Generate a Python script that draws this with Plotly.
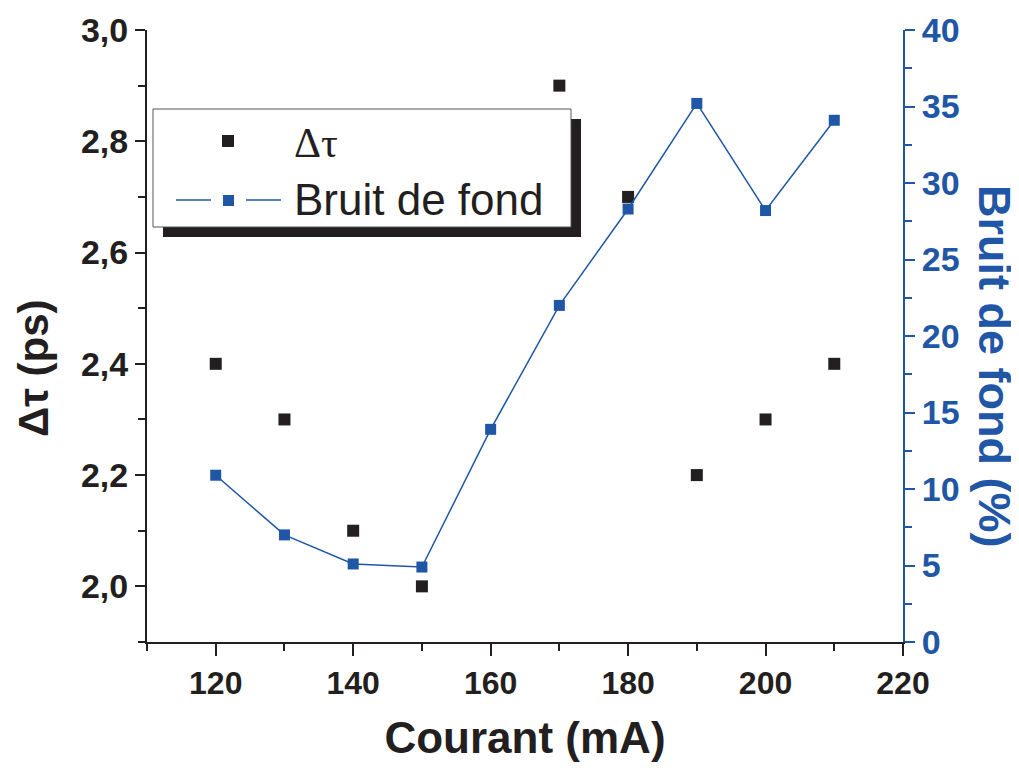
import plotly.graph_objects as go

courant_dt = [120, 130, 140, 150, 170, 180, 190, 200, 210]
delta_tau = [2.4, 2.3, 2.1, 2.0, 2.9, 2.7, 2.2, 2.3, 2.4]

courant_bruit = [120, 130, 140, 150, 160, 170, 180, 190, 200, 210]
bruit = [10.9, 7.0, 5.1, 4.9, 13.9, 22.0, 28.3, 35.2, 28.2, 34.1]

legend_names = ["Δτ", "Bruit de fond"]

BLACK = "#231F20"
BLUE = "#1F56A6"
FONT = "Liberation Sans"

# page has an 8px body margin: compensate so the plot lands where the reference has it
OFF = 8
W, H = 1019 - OFF, 770 - OFF
# plot area in page pixels
L, R, T, B = 147, 903, 30, 642
def px(x):
    return (x - L) / (R - L)
def py(y):
    return (B - y) / (B - T)

fig = go.Figure()
fig.add_trace(go.Scatter(
    x=courant_dt, y=delta_tau, mode="markers", name=legend_names[0],
    marker=dict(symbol="square", size=12, color=BLACK),
    xaxis="x", yaxis="y", showlegend=False))
fig.add_trace(go.Scatter(
    x=courant_bruit, y=bruit, mode="lines+markers", name=legend_names[1],
    line=dict(color=BLUE, width=1.5),
    marker=dict(symbol="square", size=11, color=BLUE),
    xaxis="x", yaxis="y2", showlegend=False))

fig.update_layout(
    width=W, height=H,
    margin=dict(l=L - OFF, r=W - (R - OFF), t=T - OFF, b=H - (B - OFF)),
    paper_bgcolor="white", plot_bgcolor="white",
    separators=",.",
    showlegend=False,
    xaxis=dict(range=[110, 220], dtick=20, tick0=0, automargin=False,
               showline=True, linecolor=BLACK, linewidth=2,
               ticks="outside", ticklen=12, tickwidth=2, tickcolor=BLACK,
               minor=dict(dtick=10, ticklen=7, tickwidth=2, tickcolor=BLACK, ticks="outside"),
               showgrid=False, zeroline=False,
               tickfont=dict(family=FONT, size=32, color=BLACK, weight="bold"),
               title=dict(text="Courant (mA)", standoff=22,
                          font=dict(family=FONT, size=44, color=BLACK, weight="bold"))),
    xaxis2=dict(range=[110, 220], dtick=20, tick0=0, overlaying="x", side="top",
                automargin=False,
                showline=True, linecolor=BLACK, linewidth=2,
                ticks="inside", ticklen=12, tickwidth=2, tickcolor=BLACK,
                minor=dict(dtick=10, ticklen=7, tickwidth=2, tickcolor=BLACK, ticks="inside"),
                showgrid=False, zeroline=False, showticklabels=False),
    yaxis=dict(range=[1.9, 3.0], tick0=2.0, dtick=0.2, tickformat=".1f",
               automargin=False,
               showline=True, linecolor=BLACK, linewidth=2,
               ticks="outside", ticklen=10, tickwidth=2, tickcolor=BLACK,
               minor=dict(dtick=0.1, ticklen=7, tickwidth=2, tickcolor=BLACK, ticks="outside"),
               showgrid=False, zeroline=False,
               tickfont=dict(family=FONT, size=34, color=BLACK, weight="bold")),
    yaxis2=dict(range=[0, 40], dtick=5, overlaying="y", side="right",
                automargin=False,
                showline=True, linecolor=BLUE, linewidth=2,
                ticks="outside", ticklen=10, tickwidth=2, tickcolor=BLUE,
                minor=dict(dtick=2.5, ticklen=7, tickwidth=2, tickcolor=BLUE, ticks="outside"),
                showgrid=False, zeroline=False,
                tickfont=dict(family=FONT, size=34, color=BLUE, weight="bold")),
)

# y-axis titles as annotations (offset along the axis like the reference)
fig.add_annotation(xref="paper", yref="paper", x=px(33), y=py(368),
                   text="Δτ (ps)", textangle=-90, showarrow=False,
                   xanchor="center", yanchor="middle",
                   font=dict(family=FONT, size=42, color=BLACK, weight="bold"))
fig.add_annotation(xref="paper", yref="paper", x=px(995), y=py(366),
                   text="Bruit de fond (%)", textangle=90, showarrow=False,
                   xanchor="center", yanchor="middle",
                   font=dict(family=FONT, size=45, color=BLUE, weight="bold"))

# legend frame with drop shadow
fig.add_shape(type="rect", xref="paper", yref="paper",
              x0=px(163), x1=px(581), y0=py(237), y1=py(119),
              fillcolor=BLACK, line=dict(width=0), layer="below")
fig.add_shape(type="rect", xref="paper", yref="paper",
              x0=px(153), x1=px(571), y0=py(227), y1=py(109),
              fillcolor="white", line=dict(color="#555555", width=1), layer="below")
# legend symbols
fig.add_shape(type="rect", xref="paper", yref="paper",
              x0=px(222), x1=px(234), y0=py(147), y1=py(135),
              fillcolor=BLACK, line=dict(width=0))
fig.add_shape(type="line", xref="paper", yref="paper",
              x0=px(176), x1=px(211), y0=py(200), y1=py(200),
              line=dict(color=BLUE, width=1.5))
fig.add_shape(type="line", xref="paper", yref="paper",
              x0=px(246), x1=px(281), y0=py(200), y1=py(200),
              line=dict(color=BLUE, width=1.5))
fig.add_shape(type="rect", xref="paper", yref="paper",
              x0=px(223), x1=px(234), y0=py(206), y1=py(195),
              fillcolor=BLUE, line=dict(width=0))
# legend labels
fig.add_annotation(xref="paper", yref="paper", x=px(292), y=py(143),
                   text=legend_names[0], showarrow=False, xanchor="left", yanchor="middle",
                   font=dict(family="Liberation Serif", size=42, color=BLACK))
fig.add_annotation(xref="paper", yref="paper", x=px(292), y=py(199),
                   text=legend_names[1], showarrow=False, xanchor="left", yanchor="middle",
                   font=dict(family=FONT, size=44, color=BLACK))

fig.write_html("out.html")
